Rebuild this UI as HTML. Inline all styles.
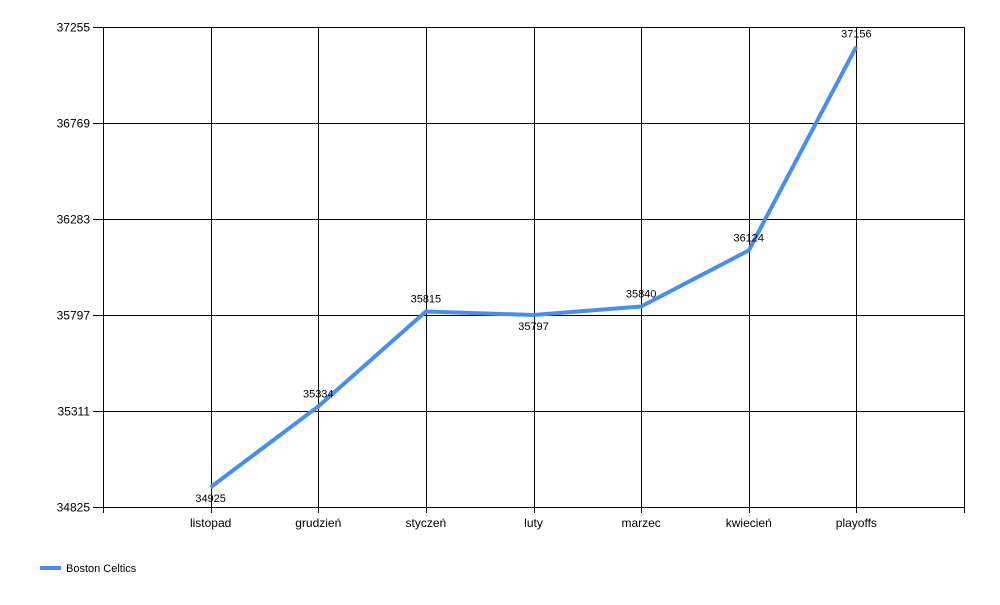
<!DOCTYPE html>
<html><head><meta charset="utf-8"><style>
body{margin:0;background:#fff;font-family:"Liberation Sans",sans-serif}
</style></head><body>
<svg id="c" width="1000" height="600" xmlns="http://www.w3.org/2000/svg"></svg>
<script>
const categories=["listopad","grudzień","styczeń","luty","marzec","kwiecień","playoffs"];
const values=[34925,35334,35815,35797,35840,36124,37156];
const yTicks=[34825,35311,35797,36283,36769,37255];
const labelBelow=[true,false,false,true,false,false,false];
const L=103,R=964,T=27,B=507,yMin=34825,yMax=37255;
const step=(R-L)/(categories.length+1);
const xs=i=>L+(i+1)*step;
const ys=v=>B-(v-yMin)/(yMax-yMin)*(B-T);
const svg=document.getElementById('c');
const NS="http://www.w3.org/2000/svg";
function mk(t,a,p){const e=document.createElementNS(NS,t);for(const k in a)e.setAttribute(k,a[k]);(p||svg).appendChild(e);return e;}
yTicks.forEach(v=>{
 const y=Math.round(ys(v))+0.5;
 const g=mk('line',{x1:93,x2:R,y1:y,y2:y,stroke:'#000','stroke-width':1});
 
 
 const t=mk('text',{x:90,y:y+4,'text-anchor':'end','font-size':12,fill:'#000'});
 t.textContent=v;
 
 
});
for(let i=0;i<=categories.length+1;i++){
 const x=Math.round(L+i*step)+0.5;
 const g=mk('line',{x1:x,x2:x,y1:T,y2:B+6,stroke:'#000','stroke-width':1});
 
 
}
categories.forEach((c,i)=>{
 const t=mk('text',{x:xs(i),y:527,'text-anchor':'middle','font-size':12,fill:'#000'});
 t.textContent=c;
 
 
});
const pts=values.map((v,i)=>xs(i)+','+ys(v)).join(' ');
const line=mk('polyline',{points:pts,fill:'none',stroke:'#4a8fe7','stroke-width':4,'stroke-linejoin':'round'});


values.forEach((v,i)=>{
 const t=mk('text',{x:xs(i),y:labelBelow[i]?ys(v)+15:ys(v)-9,'text-anchor':'middle','font-size':11,fill:'#000'});
 t.textContent=v;
 
 
});
const lg=mk('g',{});


mk('line',{x1:40,x2:61,y1:568,y2:568,stroke:'#4a8fe7','stroke-width':4},lg);
const lt=mk('text',{x:66,y:572,'font-size':11,fill:'#000'},lg);
lt.textContent='Boston Celtics';
</script>
</body></html>
